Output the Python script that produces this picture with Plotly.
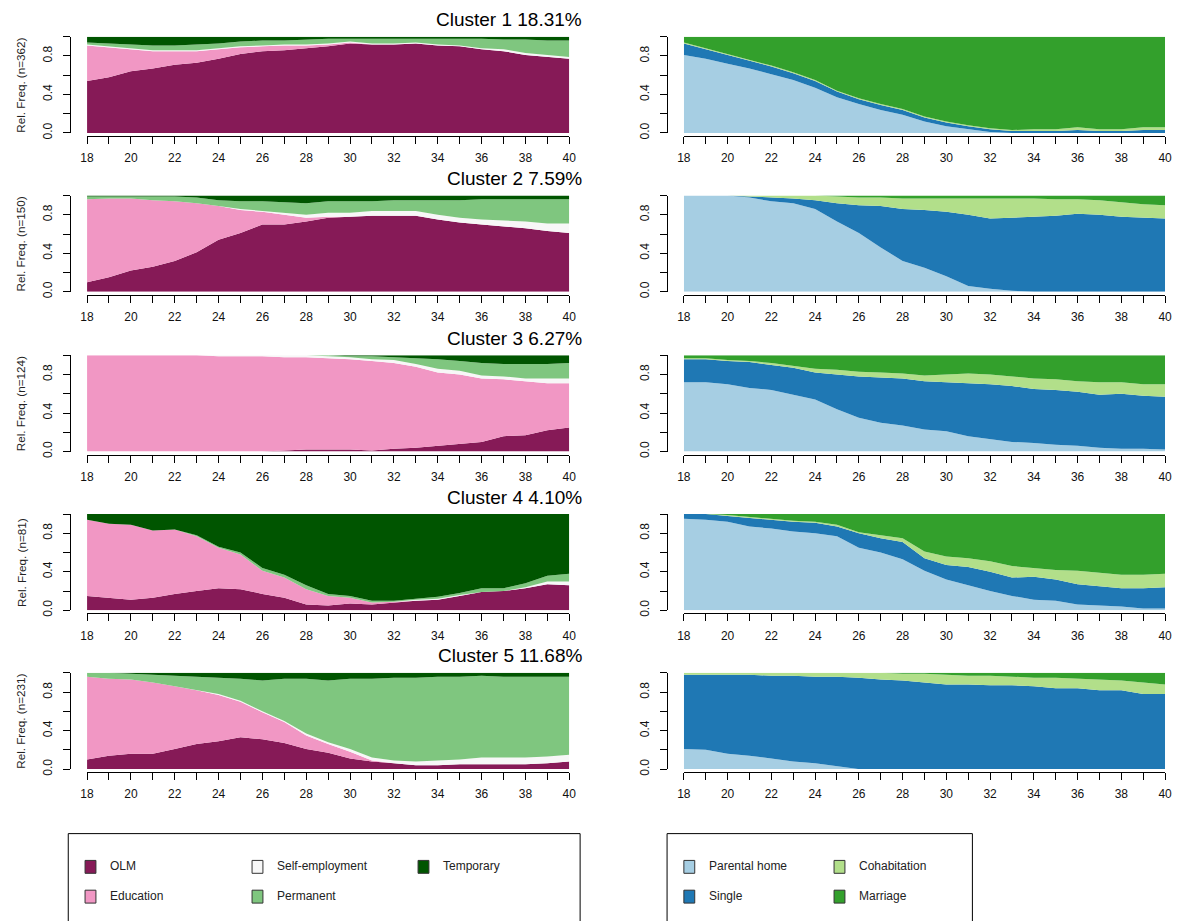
import plotly.graph_objects as go

W, H = 1179, 921


def fx(p):
    return p / W


def fy(p):
    return 1 - p / H


AGES = list(range(18, 41))
TICK_TEXT = [str(a) if a % 2 == 0 else "" for a in AGES]
Y_TICKS = [0, 0.2, 0.4, 0.6, 0.8, 1.0]
Y_TEXT = ["0.0", "", "0.4", "", "0.8", ""]

CLUSTER_TITLES = ["Cluster 1 18.31%", "Cluster 2 7.59%", "Cluster 3 6.27%",
                  "Cluster 4 4.10%", "Cluster 5 11.68%"]
N_LABELS = ["Rel. Freq. (n=362)", "Rel. Freq. (n=150)", "Rel. Freq. (n=124)",
            "Rel. Freq. (n=81)", "Rel. Freq. (n=231)"]

WORK_STATES = ["OLM", "Education", "Self-employment", "Permanent", "Temporary"]
WORK_COLORS = ["#861A57", "#F197C4", "#F7F7F7", "#7FC67F", "#005500"]
FAM_STATES = ["Parental home", "Single", "Cohabitation", "Marriage"]
FAM_COLORS = ["#A6CEE3", "#1F78B4", "#B2DF8A", "#33A02C"]

# ---- Work trajectories (share of each state by age 18..40) ----
c1_olm = [0.54, 0.58, 0.64, 0.67, 0.71, 0.73, 0.77, 0.82, 0.85, 0.86, 0.88, 0.90, 0.93, 0.92, 0.92, 0.93, 0.91, 0.90, 0.87, 0.85, 0.81, 0.79, 0.77]
c1_edu = [0.37, 0.31, 0.23, 0.18, 0.14, 0.12, 0.10, 0.07, 0.05, 0.05, 0.03, 0.02, 0.01, 0, 0, 0, 0, 0, 0, 0, 0, 0, 0]
c1_self = [0.01, 0.01, 0.01, 0.01, 0.01, 0.01, 0.01, 0.01, 0.01, 0.01, 0.01, 0.01, 0.01, 0.01, 0.01, 0.01, 0.01, 0.01, 0.01, 0.02, 0.02, 0.02, 0.02]
c1_perm = [0.02, 0.03, 0.04, 0.05, 0.05, 0.06, 0.05, 0.05, 0.05, 0.04, 0.05, 0.05, 0.03, 0.05, 0.05, 0.04, 0.06, 0.07, 0.10, 0.10, 0.14, 0.15, 0.17]
c1_temp = [0.06, 0.07, 0.08, 0.09, 0.09, 0.08, 0.07, 0.05, 0.04, 0.04, 0.03, 0.02, 0.02, 0.02, 0.02, 0.02, 0.02, 0.02, 0.02, 0.03, 0.03, 0.04, 0.04]

c2_olm = [0.10, 0.15, 0.22, 0.26, 0.32, 0.41, 0.54, 0.61, 0.70, 0.70, 0.73, 0.77, 0.78, 0.79, 0.79, 0.79, 0.75, 0.72, 0.70, 0.68, 0.66, 0.63, 0.61]
c2_edu = [0.86, 0.82, 0.75, 0.69, 0.62, 0.51, 0.35, 0.24, 0.13, 0.10, 0.04, 0.01, 0, 0, 0, 0, 0, 0, 0, 0, 0, 0, 0]
c2_self = [0, 0, 0, 0, 0, 0, 0, 0.01, 0.01, 0.02, 0.03, 0.04, 0.04, 0.05, 0.05, 0.05, 0.05, 0.05, 0.05, 0.06, 0.07, 0.08, 0.10]
c2_perm = [0.03, 0.02, 0.02, 0.04, 0.05, 0.06, 0.06, 0.08, 0.10, 0.11, 0.12, 0.12, 0.12, 0.10, 0.11, 0.11, 0.15, 0.18, 0.21, 0.22, 0.23, 0.25, 0.25]
c2_temp = [0.01, 0.01, 0.01, 0.01, 0.01, 0.02, 0.05, 0.06, 0.06, 0.07, 0.08, 0.06, 0.06, 0.06, 0.05, 0.05, 0.05, 0.05, 0.04, 0.04, 0.04, 0.04, 0.04]

c3_olm = [0, 0, 0, 0, 0, 0, 0, 0, 0, 0.01, 0.02, 0.02, 0.02, 0.01, 0.03, 0.04, 0.06, 0.08, 0.10, 0.16, 0.17, 0.22, 0.25]
c3_edu = [1.0, 1.0, 1.0, 1.0, 1.0, 1.0, 0.99, 0.99, 0.99, 0.97, 0.96, 0.95, 0.94, 0.93, 0.89, 0.84, 0.76, 0.72, 0.66, 0.59, 0.56, 0.49, 0.46]
c3_self = [0, 0, 0, 0, 0, 0, 0.01, 0.01, 0.01, 0.02, 0.02, 0.02, 0.02, 0.02, 0.03, 0.03, 0.04, 0.04, 0.03, 0.03, 0.03, 0.05, 0.05]
c3_perm = [0, 0, 0, 0, 0, 0, 0, 0, 0, 0, 0, 0.01, 0.01, 0.03, 0.03, 0.06, 0.10, 0.10, 0.13, 0.13, 0.15, 0.15, 0.16]
c3_temp = [0, 0, 0, 0, 0, 0, 0, 0, 0, 0, 0, 0, 0.01, 0.01, 0.02, 0.03, 0.04, 0.06, 0.08, 0.09, 0.09, 0.09, 0.08]

c4_olm = [0.15, 0.13, 0.11, 0.13, 0.17, 0.20, 0.23, 0.22, 0.17, 0.13, 0.06, 0.05, 0.07, 0.06, 0.08, 0.10, 0.11, 0.15, 0.19, 0.20, 0.23, 0.27, 0.26]
c4_edu = [0.79, 0.77, 0.78, 0.70, 0.67, 0.57, 0.42, 0.36, 0.24, 0.21, 0.16, 0.10, 0.06, 0.02, 0.01, 0, 0, 0, 0, 0, 0, 0, 0]
c4_self = [0, 0, 0, 0, 0, 0, 0, 0, 0, 0, 0, 0, 0, 0, 0, 0.01, 0.01, 0.01, 0, 0, 0.01, 0.03, 0.04]
c4_perm = [0, 0, 0, 0, 0, 0.01, 0.01, 0.02, 0.03, 0.03, 0.04, 0.02, 0.02, 0.02, 0.01, 0.01, 0.02, 0.02, 0.04, 0.03, 0.04, 0.06, 0.08]
c4_temp = [0.06, 0.10, 0.11, 0.17, 0.16, 0.22, 0.34, 0.40, 0.56, 0.63, 0.74, 0.83, 0.85, 0.90, 0.90, 0.88, 0.86, 0.82, 0.77, 0.77, 0.72, 0.64, 0.62]

c5_olm = [0.10, 0.14, 0.16, 0.16, 0.21, 0.26, 0.29, 0.33, 0.31, 0.27, 0.21, 0.17, 0.11, 0.08, 0.06, 0.04, 0.04, 0.05, 0.05, 0.05, 0.05, 0.06, 0.08]
c5_edu = [0.86, 0.80, 0.77, 0.74, 0.65, 0.56, 0.48, 0.37, 0.28, 0.22, 0.14, 0.09, 0.07, 0.01, 0, 0, 0, 0, 0, 0, 0, 0, 0]
c5_self = [0, 0, 0, 0, 0, 0, 0.01, 0.01, 0.01, 0.01, 0.02, 0.02, 0.03, 0.03, 0.03, 0.04, 0.05, 0.05, 0.07, 0.07, 0.07, 0.07, 0.07]
c5_perm = [0.04, 0.06, 0.06, 0.08, 0.11, 0.14, 0.17, 0.23, 0.32, 0.44, 0.57, 0.64, 0.73, 0.82, 0.86, 0.87, 0.87, 0.86, 0.85, 0.84, 0.84, 0.83, 0.81]
c5_temp = [0, 0, 0.01, 0.02, 0.03, 0.04, 0.05, 0.06, 0.08, 0.06, 0.06, 0.08, 0.06, 0.06, 0.05, 0.05, 0.04, 0.04, 0.03, 0.04, 0.04, 0.04, 0.04]

# ---- Family trajectories ----
f1_par = [0.81, 0.77, 0.72, 0.67, 0.61, 0.55, 0.47, 0.37, 0.30, 0.24, 0.19, 0.12, 0.07, 0.04, 0.01, 0, 0, 0, 0, 0, 0, 0, 0]
f1_sin = [0.12, 0.10, 0.09, 0.08, 0.08, 0.07, 0.07, 0.06, 0.05, 0.05, 0.05, 0.04, 0.04, 0.03, 0.03, 0.02, 0.02, 0.02, 0.03, 0.02, 0.02, 0.03, 0.03]
f1_coh = [0.01, 0.01, 0.01, 0.01, 0.01, 0.01, 0.01, 0.01, 0.01, 0.01, 0.01, 0.01, 0.01, 0.01, 0.01, 0.01, 0.02, 0.02, 0.03, 0.02, 0.02, 0.03, 0.03]
f1_mar = [0.06, 0.12, 0.18, 0.24, 0.30, 0.37, 0.45, 0.56, 0.64, 0.70, 0.75, 0.83, 0.88, 0.92, 0.95, 0.97, 0.96, 0.96, 0.94, 0.96, 0.96, 0.94, 0.94]

f2_par = [1.0, 1.0, 1.0, 0.98, 0.94, 0.92, 0.86, 0.73, 0.61, 0.46, 0.32, 0.25, 0.16, 0.06, 0.03, 0.01, 0, 0, 0, 0, 0, 0, 0]
f2_sin = [0, 0, 0, 0.01, 0.04, 0.05, 0.09, 0.19, 0.29, 0.43, 0.54, 0.60, 0.67, 0.74, 0.73, 0.76, 0.78, 0.79, 0.81, 0.80, 0.78, 0.77, 0.76]
f2_coh = [0, 0, 0, 0.01, 0.02, 0.03, 0.05, 0.07, 0.08, 0.09, 0.11, 0.12, 0.14, 0.17, 0.21, 0.20, 0.19, 0.17, 0.15, 0.15, 0.15, 0.14, 0.14]
f2_mar = [0, 0, 0, 0, 0, 0, 0, 0.01, 0.02, 0.02, 0.03, 0.03, 0.03, 0.03, 0.03, 0.03, 0.03, 0.04, 0.04, 0.05, 0.07, 0.09, 0.10]

f3_par = [0.72, 0.72, 0.70, 0.66, 0.64, 0.59, 0.54, 0.44, 0.35, 0.30, 0.27, 0.23, 0.21, 0.16, 0.13, 0.10, 0.09, 0.07, 0.06, 0.04, 0.03, 0.03, 0.02]
f3_sin = [0.24, 0.24, 0.24, 0.27, 0.26, 0.28, 0.28, 0.36, 0.43, 0.47, 0.49, 0.50, 0.51, 0.55, 0.57, 0.58, 0.56, 0.57, 0.56, 0.55, 0.57, 0.55, 0.55]
f3_coh = [0.01, 0.01, 0.01, 0.01, 0.02, 0.02, 0.04, 0.05, 0.05, 0.05, 0.05, 0.06, 0.08, 0.10, 0.10, 0.10, 0.11, 0.11, 0.11, 0.13, 0.12, 0.12, 0.13]
f3_mar = [0.03, 0.03, 0.05, 0.06, 0.08, 0.11, 0.14, 0.15, 0.17, 0.18, 0.19, 0.21, 0.20, 0.19, 0.20, 0.22, 0.24, 0.25, 0.27, 0.28, 0.28, 0.30, 0.30]

f4_par = [0.95, 0.94, 0.92, 0.87, 0.85, 0.82, 0.80, 0.77, 0.65, 0.60, 0.53, 0.41, 0.32, 0.26, 0.20, 0.15, 0.11, 0.10, 0.06, 0.05, 0.04, 0.02, 0.02]
f4_sin = [0.05, 0.06, 0.06, 0.09, 0.09, 0.10, 0.11, 0.10, 0.15, 0.15, 0.18, 0.13, 0.15, 0.19, 0.20, 0.19, 0.24, 0.22, 0.21, 0.20, 0.19, 0.21, 0.22]
f4_coh = [0, 0, 0.01, 0.01, 0.01, 0.01, 0.01, 0.02, 0.01, 0.03, 0.04, 0.07, 0.09, 0.09, 0.11, 0.12, 0.09, 0.10, 0.14, 0.14, 0.14, 0.14, 0.14]
f4_mar = [0, 0, 0.01, 0.03, 0.05, 0.07, 0.08, 0.11, 0.19, 0.22, 0.25, 0.39, 0.44, 0.46, 0.49, 0.54, 0.56, 0.58, 0.59, 0.61, 0.63, 0.63, 0.62]

f5_par = [0.21, 0.20, 0.16, 0.14, 0.11, 0.08, 0.06, 0.03, 0, 0, 0, 0, 0, 0, 0, 0, 0, 0, 0, 0, 0, 0, 0]
f5_sin = [0.77, 0.78, 0.82, 0.84, 0.86, 0.89, 0.90, 0.93, 0.95, 0.93, 0.92, 0.90, 0.88, 0.88, 0.87, 0.87, 0.86, 0.84, 0.84, 0.82, 0.82, 0.78, 0.78]
f5_coh = [0.02, 0.02, 0.02, 0.02, 0.03, 0.03, 0.04, 0.04, 0.05, 0.07, 0.07, 0.09, 0.10, 0.09, 0.10, 0.09, 0.09, 0.11, 0.10, 0.11, 0.10, 0.12, 0.10]
f5_mar = [0, 0, 0, 0, 0, 0, 0, 0, 0, 0, 0.01, 0.01, 0.02, 0.03, 0.03, 0.04, 0.05, 0.05, 0.06, 0.07, 0.08, 0.10, 0.12]

WORK = [
    [c1_olm, c1_edu, c1_self, c1_perm, c1_temp],
    [c2_olm, c2_edu, c2_self, c2_perm, c2_temp],
    [c3_olm, c3_edu, c3_self, c3_perm, c3_temp],
    [c4_olm, c4_edu, c4_self, c4_perm, c4_temp],
    [c5_olm, c5_edu, c5_self, c5_perm, c5_temp],
]
FAMILY = [
    [f1_par, f1_sin, f1_coh, f1_mar],
    [f2_par, f2_sin, f2_coh, f2_mar],
    [f3_par, f3_sin, f3_coh, f3_mar],
    [f4_par, f4_sin, f4_coh, f4_mar],
    [f5_par, f5_sin, f5_coh, f5_mar],
]

FONT = "Liberation Sans, Arial, sans-serif"
ROW_TOPS = [37, 197, 358, 518, 678]
PANEL_H = 97
COL_X = [(81, 569), (685, 1172)]
YAXIS_X = [64, 668]

fig = go.Figure()
layout = {}
annotations = []
shapes = []
k = 0
for r in range(5):
    for c in range(2):
        k += 1
        xa = "x" if k == 1 else f"x{k}"
        ya = "y" if k == 1 else f"y{k}"
        if c == 0:
            names, colors, series = WORK_STATES, WORK_COLORS, WORK[r]
        else:
            names, colors, series = FAM_STATES, FAM_COLORS, FAMILY[r]
        for name, col, vals in zip(names, colors, series):
            fig.add_trace(go.Scatter(
                x=AGES, y=vals, name=name, mode="lines",
                stackgroup=f"g{k}", line=dict(width=0, color=col),
                fillcolor=col, xaxis=xa, yaxis=ya, showlegend=False,
                hoverinfo="x+y+name"))
        top = ROW_TOPS[r]
        bot = top + PANEL_H
        x0, x1 = COL_X[c]
        xkey = "xaxis" if k == 1 else f"xaxis{k}"
        ykey = "yaxis" if k == 1 else f"yaxis{k}"
        layout[xkey] = dict(
            domain=[fx(x0), fx(x1)], range=[18, 40], anchor="free",
            position=fy(bot + 3), showline=True, linecolor="black",
            linewidth=1, ticks="outside", ticklen=7, tickcolor="black",
            tickvals=AGES, ticktext=TICK_TEXT, showgrid=False,
            ticklabelstandoff=4,
            zeroline=False, tickfont=dict(family=FONT, size=12, color="#111"),
            fixedrange=True)
        layout[ykey] = dict(
            domain=[fy(bot), fy(top)], range=[0, 1], anchor="free",
            position=fx(YAXIS_X[c]), showline=True, linecolor="black",
            linewidth=1, ticks="outside", ticklen=7, tickcolor="black",
            tickvals=Y_TICKS, ticktext=Y_TEXT, tickangle=-90,
            ticklabelstandoff=6,
            showgrid=False, zeroline=False,
            tickfont=dict(family=FONT, size=12, color="#111"),
            fixedrange=True)
        if c == 0:
            annotations.append(dict(
                text=N_LABELS[r], x=fx(14), y=fy((top + bot) / 2),
                xref="paper", yref="paper", showarrow=False, textangle=-90,
                xanchor="center", yanchor="middle",
                font=dict(family=FONT, size=11.7, color="#222")))
            annotations.append(dict(
                text=CLUSTER_TITLES[r], x=fx(584), y=fy(top - 17),
                xref="paper", yref="paper", showarrow=False,
                xanchor="right", yanchor="middle",
                font=dict(family=FONT, size=19, color="black")))

# ---- Legends ----
shapes.append(dict(type="rect", xref="paper", yref="paper",
                   x0=fx(62), x1=fx(580), y0=fy(950), y1=fy(840),
                   line=dict(color="black", width=1), fillcolor="white"))
shapes.append(dict(type="rect", xref="paper", yref="paper",
                   x0=fx(668), x1=fx(977), y0=fy(950), y1=fy(840),
                   line=dict(color="black", width=1), fillcolor="white"))

work_slots = [(79, 873), (79, 903), (248, 873), (248, 903), (416, 873)]
fam_slots = [(685, 873), (685, 903), (837, 873), (837, 903)]
for names, colors, slots in ((WORK_STATES, WORK_COLORS, work_slots),
                             (FAM_STATES, FAM_COLORS, fam_slots)):
    for name, col, (sx, sy) in zip(names, colors, slots):
        shapes.append(dict(type="rect", xref="paper", yref="paper",
                           x0=fx(sx), x1=fx(sx + 11), y0=fy(sy + 7),
                           y1=fy(sy - 6), fillcolor=col,
                           line=dict(color="#333", width=1)))
        annotations.append(dict(
            text=name, x=fx(sx + 23), y=fy(sy), xref="paper", yref="paper",
            showarrow=False, xanchor="left", yanchor="middle",
            font=dict(family=FONT, size=12, color="#222")))

fig.update_layout(
    width=W, height=H, margin=dict(l=0, r=0, t=0, b=0),
    paper_bgcolor="white", plot_bgcolor="white", showlegend=False,
    annotations=annotations, shapes=shapes, **layout)

fig.write_html(
    "out.html",
    config={"displayModeBar": False},
    post_script="document.body.style.margin='0';document.body.style.overflow='hidden';")
